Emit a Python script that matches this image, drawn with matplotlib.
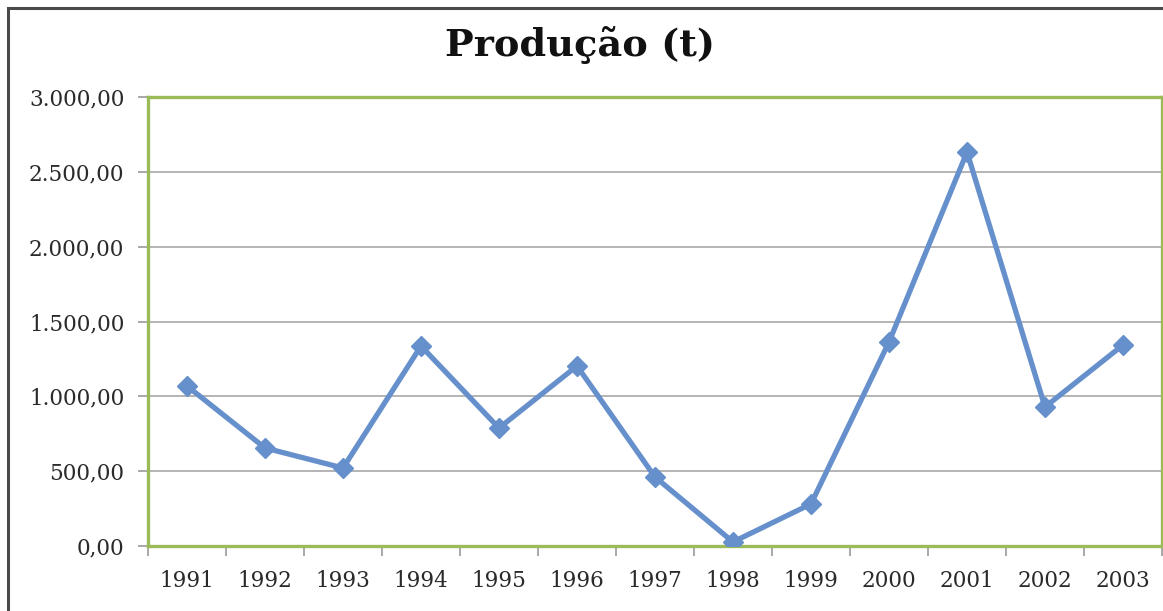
import matplotlib
matplotlib.use("Agg")
import matplotlib.pyplot as plt
from matplotlib.patches import Rectangle
from matplotlib.ticker import FuncFormatter, FixedLocator, NullFormatter

anos = ["1991", "1992", "1993", "1994", "1995", "1996", "1997",
        "1998", "1999", "2000", "2001", "2002", "2003"]
producao = [1069, 655, 521, 1336, 788, 1203, 461, 27, 281, 1363, 2632, 929, 1343]
y_ticks = [0, 500, 1000, 1500, 2000, 2500, 3000]
titulo = "Produção (t)"

W, H = 1163, 611
fig = plt.figure(figsize=(W / 100, H / 100), dpi=100)
fig.patch.set_facecolor("white")

# outer chart frame
fig.add_artist(Rectangle((8 / W, -0.05), 1.2, (H - 8) / H + 0.05,
                         transform=fig.transFigure, fill=False,
                         edgecolor="#4a4a4a", linewidth=2.2))

ax = fig.add_axes([148 / W, (H - 546) / H, (1162 - 148) / W, (546 - 97) / H])
x = list(range(len(anos)))
ax.plot(x, producao, color="#6690cc", linewidth=3.8, marker="D",
        markersize=10.5, markerfacecolor="#6690cc", markeredgecolor="#6690cc",
        zorder=3)

ax.set_xlim(-0.5, len(anos) - 0.5)
ax.set_ylim(0, 3000)
ax.set_yticks(y_ticks)
ax.yaxis.set_major_formatter(FuncFormatter(
    lambda v, p: f"{v:,.2f}".replace(",", "X").replace(".", ",").replace("X", ".")))
ax.grid(axis="y", color="#a8a8a8", linewidth=1.2, zorder=1)

# category labels centred, tick marks on the boundaries
ax.xaxis.set_major_locator(FixedLocator([i - 0.5 for i in range(len(anos) + 1)]))
ax.xaxis.set_major_formatter(NullFormatter())
ax.xaxis.set_minor_locator(FixedLocator(x))
ax.set_xticklabels(anos, minor=True)
ax.tick_params(axis="x", which="minor", length=0, pad=17)
ax.tick_params(axis="x", which="major", length=7, color="#9a9a9a", width=1.2)
ax.tick_params(axis="y", length=7, color="#9a9a9a", width=1.2, pad=10)

for lab in ax.get_yticklabels() + ax.get_xticklabels(minor=True):
    lab.set_fontfamily("DejaVu Serif")
    lab.set_fontsize(15.5)
    lab.set_color("#2a2a2a")

for s in ax.spines.values():
    s.set_color("#9bbb59")
    s.set_linewidth(2.4)

fig.text(0.499, (H - 45) / H, titulo, ha="center", va="center",
         fontsize=27.5, fontweight="bold", family="DejaVu Serif", color="#111111")

fig.savefig("out.png", dpi=100)
